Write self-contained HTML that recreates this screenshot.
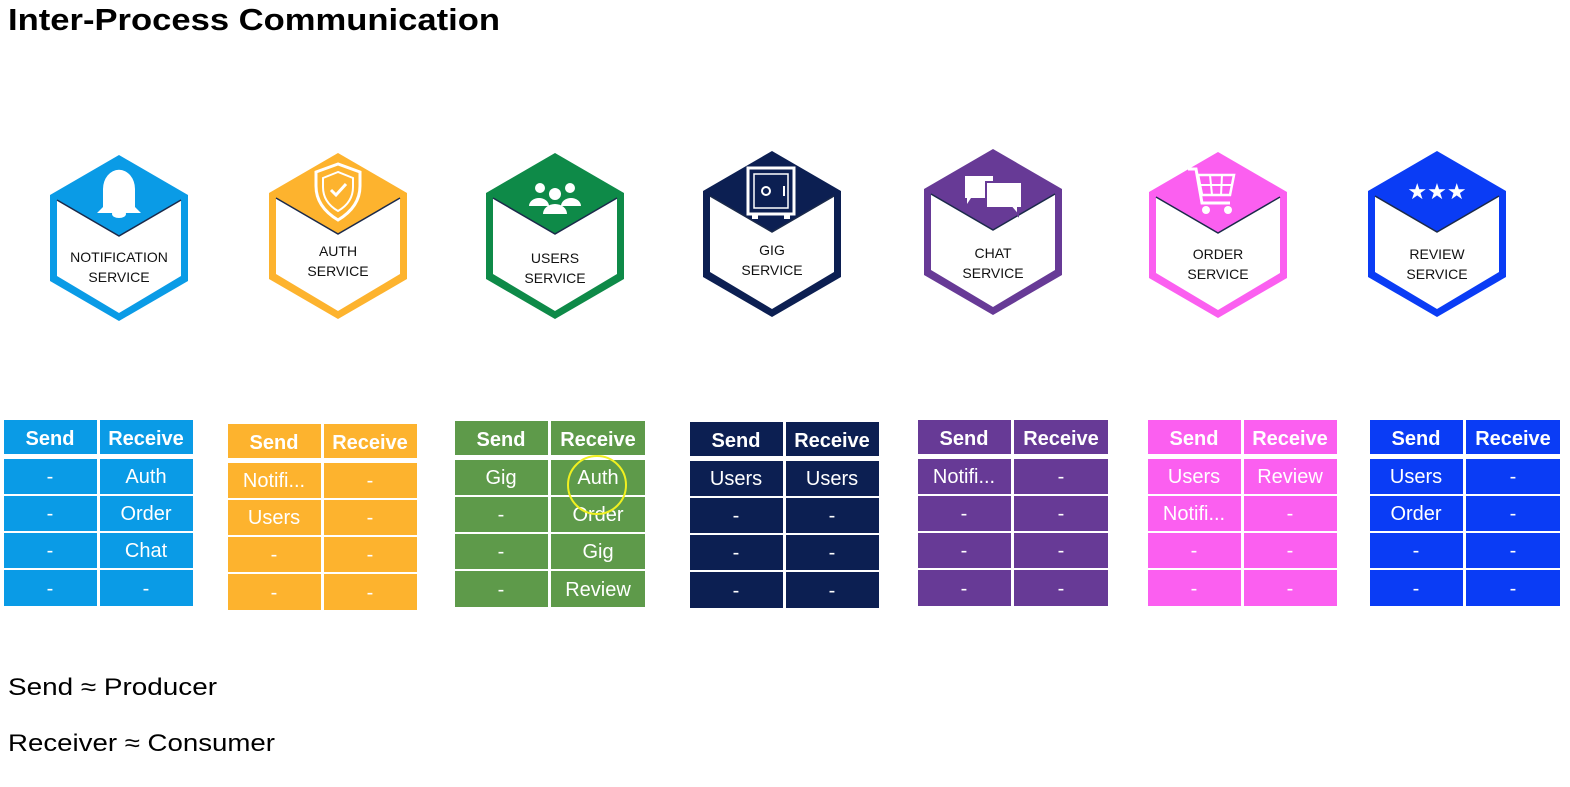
<!DOCTYPE html>
<html><head><meta charset="utf-8"><style>
html,body{margin:0;padding:0;background:#fff;width:1570px;height:787px;overflow:hidden}
svg{display:block}
text{font-family:"Liberation Sans",sans-serif}
</style></head><body>
<svg width="1570" height="787" viewBox="0 0 1570 787">
<defs>
<g id="hexw">
<polygon points="-62,-38 0,-2 62,-38 62,38 0,75 -62,38" fill="#fff"/>
<polyline points="-62,-38 0,-2 62,-38" fill="none" stroke="#1b2a4a" stroke-width="1.5"/>
</g>
</defs>
<text x="8" y="30" font-size="31" font-weight="bold" fill="#000" textLength="492" lengthAdjust="spacingAndGlyphs">Inter-Process Communication</text>

<g transform="translate(119,238)">
<polygon points="0,-83 69,-43 69,43 0,83 -69,43 -69,-43" fill="#0a9be6"/><use href="#hexw"/>
<path d="M-22,-25 h44 l-6,-6 v-18 a10,12 0 0 0 -32,0 v18 z" fill="#fff"/><circle cx="0" cy="-63" r="4" fill="none" stroke="#fff" stroke-width="2"/><ellipse cx="0" cy="-24" rx="7" ry="4" fill="#fff"/>
<text x="0" y="24" font-size="14" text-anchor="middle" fill="#111">NOTIFICATION</text><text x="0" y="44" font-size="14" text-anchor="middle" fill="#111">SERVICE</text></g>

<g transform="translate(338,236)">
<polygon points="0,-83 69,-43 69,43 0,83 -69,43 -69,-43" fill="#fdb32e"/><use href="#hexw"/>
<path d="M0,-72 l-22,8 v14 c0,18 12,28 22,34 c10,-6 22,-16 22,-34 v-14 z" fill="none" stroke="#fff" stroke-width="3"/><path d="M0,-64 l-15,6 v9 c0,13 8,20 15,24 c7,-4 15,-11 15,-24 v-9 z" fill="none" stroke="#fff" stroke-width="2"/><polyline points="-7,-46 -2,-41 8,-52" fill="none" stroke="#fff" stroke-width="3"/>
<text x="0" y="20" font-size="14" text-anchor="middle" fill="#111">AUTH</text><text x="0" y="40" font-size="14" text-anchor="middle" fill="#111">SERVICE</text></g>

<g transform="translate(555,236)">
<polygon points="0,-83 69,-43 69,43 0,83 -69,43 -69,-43" fill="#0e8a48"/><use href="#hexw"/>
<circle cx="-15" cy="-48" r="5" fill="#fff"/><circle cx="15" cy="-48" r="5" fill="#fff"/><circle cx="0" cy="-42" r="6" fill="#fff"/>
<path d="M-26,-30 a10,8 0 0 1 20,0 z M6,-30 a10,8 0 0 1 20,0 z M-12,-22 a12,10 0 0 1 24,0 z" fill="#fff"/>
<text x="0" y="27" font-size="14" text-anchor="middle" fill="#111">USERS</text><text x="0" y="47" font-size="14" text-anchor="middle" fill="#111">SERVICE</text></g>

<g transform="translate(772,234)">
<polygon points="0,-83 69,-43 69,43 0,83 -69,43 -69,-43" fill="#0c1f52"/><use href="#hexw"/>
<rect x="-24" y="-66" width="46" height="46" fill="none" stroke="#fff" stroke-width="3"/><rect x="-18" y="-60" width="34" height="34" fill="none" stroke="#fff" stroke-width="1.5"/><circle cx="-6" cy="-43" r="4" fill="none" stroke="#fff" stroke-width="2"/><line x1="12" y1="-48" x2="12" y2="-38" stroke="#fff" stroke-width="2"/>
<rect x="-20" y="-20" width="6" height="5" fill="#fff"/><rect x="12" y="-20" width="6" height="5" fill="#fff"/>
<text x="0" y="21" font-size="14" text-anchor="middle" fill="#111">GIG</text><text x="0" y="41" font-size="14" text-anchor="middle" fill="#111">SERVICE</text></g>

<g transform="translate(993,232)">
<polygon points="0,-83 69,-43 69,43 0,83 -69,43 -69,-43" fill="#673a96"/><use href="#hexw"/>
<path d="M-28,-56 h28 v22 h-22 l-4,6 v-6 h-2 z" fill="#fff"/><path d="M-7,-50 h36 v26 h-4 v7 l-6,-7 h-26 z" fill="#fff" stroke="#673a96" stroke-width="2"/>
<text x="0" y="26" font-size="14" text-anchor="middle" fill="#111">CHAT</text><text x="0" y="46" font-size="14" text-anchor="middle" fill="#111">SERVICE</text></g>

<g transform="translate(1218,235)">
<polygon points="0,-83 69,-43 69,43 0,83 -69,43 -69,-43" fill="#fb5ff0"/><use href="#hexw"/>
<path d="M-30,-66 h8 l6,34 h28" fill="none" stroke="#fff" stroke-width="3"/><path d="M-20,-60 h36 l-4,20 h-28 z" fill="none" stroke="#fff" stroke-width="2.5"/>
<line x1="-8" y1="-60" x2="-6" y2="-40" stroke="#fff" stroke-width="2"/><line x1="4" y1="-60" x2="3" y2="-40" stroke="#fff" stroke-width="2"/><line x1="-18" y1="-50" x2="14" y2="-50" stroke="#fff" stroke-width="2"/>
<circle cx="-12" cy="-25" r="4" fill="#fff"/><circle cx="10" cy="-25" r="4" fill="#fff"/>
<text x="0" y="24" font-size="14" text-anchor="middle" fill="#111">ORDER</text><text x="0" y="44" font-size="14" text-anchor="middle" fill="#111">SERVICE</text></g>

<g transform="translate(1437,234)">
<polygon points="0,-83 69,-43 69,43 0,83 -69,43 -69,-43" fill="#0a3cf5"/><use href="#hexw"/>
<text x="0" y="-35" font-size="22" text-anchor="middle" fill="#fff">★★★</text>
<text x="0" y="25" font-size="14" text-anchor="middle" fill="#111">REVIEW</text><text x="0" y="45" font-size="14" text-anchor="middle" fill="#111">SERVICE</text></g>

<g font-size="20" fill="#fff" text-anchor="middle">
<g transform="translate(4,420)" >
<g fill="#0a9be6"><rect x="0" y="0" width="93" height="34"/><rect x="96" y="0" width="93" height="34"/>
<rect x="0" y="39" width="93" height="35"/><rect x="96" y="39" width="93" height="35"/>
<rect x="0" y="76" width="93" height="35"/><rect x="96" y="76" width="93" height="35"/>
<rect x="0" y="113" width="93" height="35"/><rect x="96" y="113" width="93" height="35"/>
<rect x="0" y="150" width="93" height="36"/><rect x="96" y="150" width="93" height="36"/></g>
<g fill="#fff"><text x="46" y="25" font-weight="bold">Send</text><text x="142" y="25" font-weight="bold">Receive</text>
<text x="46" y="63">-</text><text x="142" y="63">Auth</text><text x="46" y="100">-</text><text x="142" y="100">Order</text>
<text x="46" y="137">-</text><text x="142" y="137">Chat</text><text x="46" y="175">-</text><text x="142" y="175">-</text></g></g>
<g transform="translate(228,424)">
<g fill="#fdb32e"><rect x="0" y="0" width="93" height="34"/><rect x="96" y="0" width="93" height="34"/>
<rect x="0" y="39" width="93" height="35"/><rect x="96" y="39" width="93" height="35"/>
<rect x="0" y="76" width="93" height="35"/><rect x="96" y="76" width="93" height="35"/>
<rect x="0" y="113" width="93" height="35"/><rect x="96" y="113" width="93" height="35"/>
<rect x="0" y="150" width="93" height="36"/><rect x="96" y="150" width="93" height="36"/></g>
<g fill="#fff"><text x="46" y="25" font-weight="bold">Send</text><text x="142" y="25" font-weight="bold">Receive</text>
<text x="46" y="63">Notifi...</text><text x="142" y="63">-</text><text x="46" y="100">Users</text><text x="142" y="100">-</text>
<text x="46" y="137">-</text><text x="142" y="137">-</text><text x="46" y="175">-</text><text x="142" y="175">-</text></g></g>
<g transform="translate(455,421)">
<g fill="#5e9a4a"><rect x="0" y="0" width="93" height="34"/><rect x="96" y="0" width="94" height="34"/>
<rect x="0" y="39" width="93" height="35"/><rect x="96" y="39" width="94" height="35"/>
<rect x="0" y="76" width="93" height="35"/><rect x="96" y="76" width="94" height="35"/>
<rect x="0" y="113" width="93" height="35"/><rect x="96" y="113" width="94" height="35"/>
<rect x="0" y="150" width="93" height="36"/><rect x="96" y="150" width="94" height="36"/></g>
<g fill="#fff"><text x="46" y="25" font-weight="bold">Send</text><text x="143" y="25" font-weight="bold">Receive</text>
<text x="46" y="63">Gig</text><text x="143" y="63">Auth</text><text x="46" y="100">-</text><text x="143" y="100">Order</text>
<text x="46" y="137">-</text><text x="143" y="137">Gig</text><text x="46" y="175">-</text><text x="143" y="175">Review</text></g>
<circle cx="142" cy="64" r="29" fill="none" stroke="#f0f020" stroke-width="2"/></g>
<g transform="translate(690,422)">
<g fill="#0c1f52"><rect x="0" y="0" width="93" height="34"/><rect x="96" y="0" width="93" height="34"/>
<rect x="0" y="39" width="93" height="35"/><rect x="96" y="39" width="93" height="35"/>
<rect x="0" y="76" width="93" height="35"/><rect x="96" y="76" width="93" height="35"/>
<rect x="0" y="113" width="93" height="35"/><rect x="96" y="113" width="93" height="35"/>
<rect x="0" y="150" width="93" height="36"/><rect x="96" y="150" width="93" height="36"/></g>
<g fill="#fff"><text x="46" y="25" font-weight="bold">Send</text><text x="142" y="25" font-weight="bold">Receive</text>
<text x="46" y="63">Users</text><text x="142" y="63">Users</text><text x="46" y="100">-</text><text x="142" y="100">-</text>
<text x="46" y="137">-</text><text x="142" y="137">-</text><text x="46" y="175">-</text><text x="142" y="175">-</text></g></g>
<g transform="translate(918,420)">
<g fill="#673a96"><rect x="0" y="0" width="93" height="34"/><rect x="96" y="0" width="94" height="34"/>
<rect x="0" y="39" width="93" height="35"/><rect x="96" y="39" width="94" height="35"/>
<rect x="0" y="76" width="93" height="35"/><rect x="96" y="76" width="94" height="35"/>
<rect x="0" y="113" width="93" height="35"/><rect x="96" y="113" width="94" height="35"/>
<rect x="0" y="150" width="93" height="36"/><rect x="96" y="150" width="94" height="36"/></g>
<g fill="#fff"><text x="46" y="25" font-weight="bold">Send</text><text x="143" y="25" font-weight="bold">Receive</text>
<text x="46" y="63">Notifi...</text><text x="143" y="63">-</text><text x="46" y="100">-</text><text x="143" y="100">-</text>
<text x="46" y="137">-</text><text x="143" y="137">-</text><text x="46" y="175">-</text><text x="143" y="175">-</text></g></g>
<g transform="translate(1148,420)">
<g fill="#fb5ff0"><rect x="0" y="0" width="93" height="34"/><rect x="96" y="0" width="93" height="34"/>
<rect x="0" y="39" width="93" height="35"/><rect x="96" y="39" width="93" height="35"/>
<rect x="0" y="76" width="93" height="35"/><rect x="96" y="76" width="93" height="35"/>
<rect x="0" y="113" width="93" height="35"/><rect x="96" y="113" width="93" height="35"/>
<rect x="0" y="150" width="93" height="36"/><rect x="96" y="150" width="93" height="36"/></g>
<g fill="#fff"><text x="46" y="25" font-weight="bold">Send</text><text x="142" y="25" font-weight="bold">Receive</text>
<text x="46" y="63">Users</text><text x="142" y="63">Review</text><text x="46" y="100">Notifi...</text><text x="142" y="100">-</text>
<text x="46" y="137">-</text><text x="142" y="137">-</text><text x="46" y="175">-</text><text x="142" y="175">-</text></g></g>
<g transform="translate(1370,420)">
<g fill="#0a3cf5"><rect x="0" y="0" width="93" height="34"/><rect x="96" y="0" width="94" height="34"/>
<rect x="0" y="39" width="93" height="35"/><rect x="96" y="39" width="94" height="35"/>
<rect x="0" y="76" width="93" height="35"/><rect x="96" y="76" width="94" height="35"/>
<rect x="0" y="113" width="93" height="35"/><rect x="96" y="113" width="94" height="35"/>
<rect x="0" y="150" width="93" height="36"/><rect x="96" y="150" width="94" height="36"/></g>
<g fill="#fff"><text x="46" y="25" font-weight="bold">Send</text><text x="143" y="25" font-weight="bold">Receive</text>
<text x="46" y="63">Users</text><text x="143" y="63">-</text><text x="46" y="100">Order</text><text x="143" y="100">-</text>
<text x="46" y="137">-</text><text x="143" y="137">-</text><text x="46" y="175">-</text><text x="143" y="175">-</text></g></g>
</g>

<text x="8" y="695" font-size="24" fill="#000" textLength="209" lengthAdjust="spacingAndGlyphs">Send ≈ Producer</text>
<text x="8" y="751" font-size="24" fill="#000" textLength="267" lengthAdjust="spacingAndGlyphs">Receiver ≈ Consumer</text>
</svg>
</body></html>
